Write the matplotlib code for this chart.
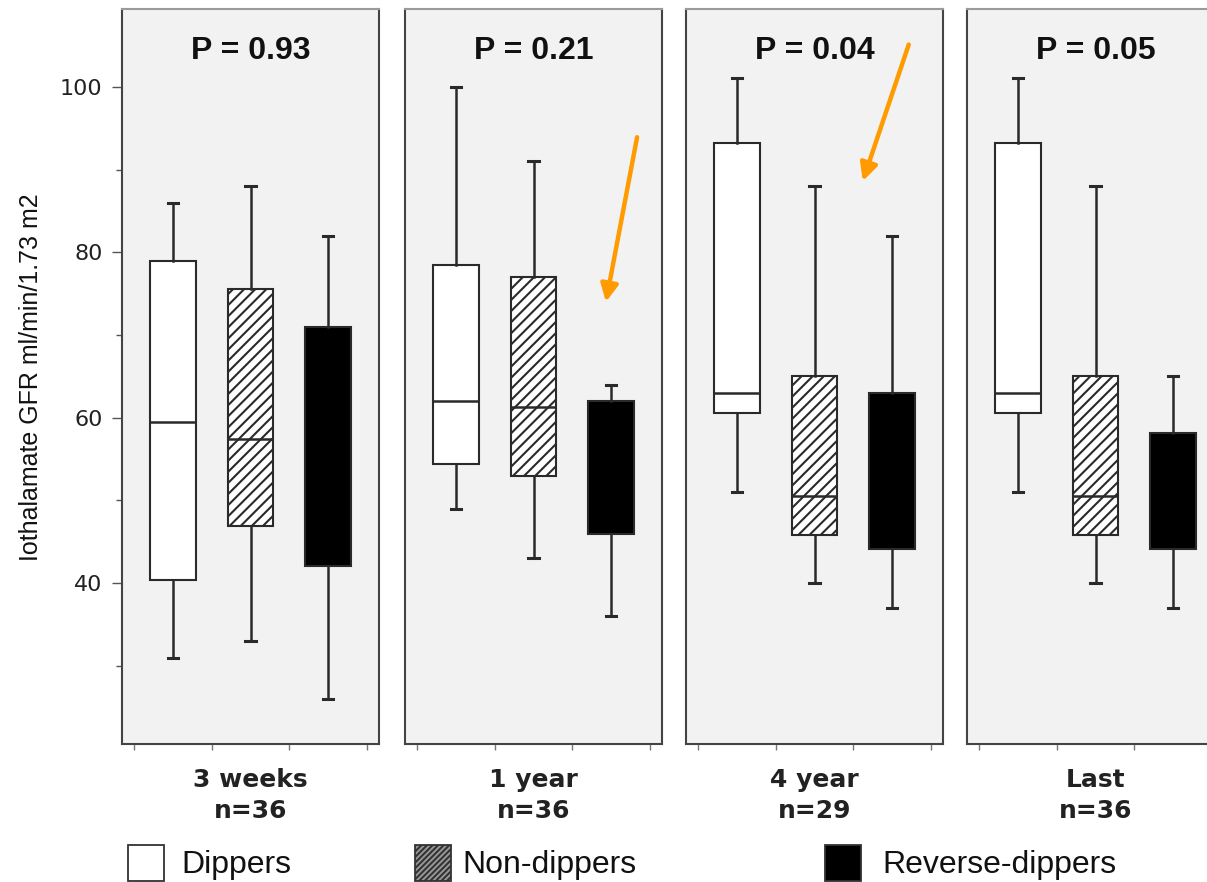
import matplotlib
matplotlib.use('Agg')
import matplotlib.pyplot as plt
from matplotlib.patches import Rectangle

# ---------------- data ----------------
periods = ['3 weeks', '1 year', '4 year', 'Last']
n_labels = ['n=36', 'n=36', 'n=29', 'n=36']
p_labels = ['P = 0.93', 'P = 0.21', 'P = 0.04', 'P = 0.05']
groups = ['Dippers', 'Non-dippers', 'Reverse-dippers']

# each entry: [whisker low, Q1, median, Q3, whisker high] per period
dippers = [[31, 40.4, 59.5, 79.0, 86],
           [49, 54.4, 62.0, 78.4, 100],
           [51, 60.6, 63.0, 93.2, 101],
           [51, 60.6, 63.0, 93.2, 101]]
non_dippers = [[33, 46.9, 57.4, 75.6, 88],
               [43, 53.0, 61.3, 77.0, 91],
               [40, 45.8, 50.5, 65.0, 88],
               [40, 45.8, 50.5, 65.0, 88]]
reverse_dippers = [[26, 42.1, 56.0, 71.0, 82],
                   [36, 46.0, 55.0, 62.0, 64],
                   [37, 44.1, 54.0, 63.0, 82],
                   [37, 44.1, 52.0, 58.2, 65]]

y_major = [40, 60, 80, 100]
y_minor = [30, 50, 70, 90]

# ---------------- style ----------------
plt.rcParams['hatch.linewidth'] = 1.5
W, H = 1207, 882
fig = plt.figure(figsize=(W / 100, H / 100), dpi=100)
fig.patch.set_facecolor('white')

panel_left_px = [122, 405, 686, 967]
panel_w_px = 257
panel_top_px, panel_bot_px = 9, 744

EDGE = '#2a2a2a'
fills = ['white', 'white', 'black']
hatches = [None, '///', None]
median_visible = [True, True, False]

# annotation arrows (data coords of the panel) : panel index, tail, head
arrows = [(1, (3.33, 93.9), (2.93, 74.0)),
          (2, (3.21, 105.1), (2.62, 88.6))]
ORANGE = '#FF9A00'

axes = []
for i, period in enumerate(periods):
    ax = fig.add_axes([panel_left_px[i] / W, (H - panel_bot_px) / H,
                       panel_w_px / W, (panel_bot_px - panel_top_px) / H])
    axes.append(ax)
    ax.set_facecolor('#f2f2f2')
    series = [dippers[i], non_dippers[i], reverse_dippers[i]]
    stats = []
    for g, s in zip(groups, series):
        stats.append(dict(label=g, whislo=s[0], q1=s[1], med=s[2], q3=s[3], whishi=s[4]))
    bp = ax.bxp(stats, positions=[1, 2, 3], widths=0.59, patch_artist=True,
                showfliers=False, capwidths=0.13,
                boxprops=dict(linewidth=1.5, edgecolor=EDGE),
                whiskerprops=dict(color=EDGE, linewidth=1.8),
                capprops=dict(color=EDGE, linewidth=2.2),
                medianprops=dict(color=EDGE, linewidth=1.8))
    for box, fc, ht in zip(bp['boxes'], fills, hatches):
        box.set_facecolor(fc)
        box.set_edgecolor(EDGE)
        if ht:
            box.set_hatch(ht)
    for med, vis in zip(bp['medians'], median_visible):
        med.set_visible(vis)

    ax.set_xlim(0.35, 3.65)
    ax.set_ylim(20.56, 109.4)

    for side in ['left', 'right', 'bottom']:
        ax.spines[side].set_color('#444444')
        ax.spines[side].set_linewidth(1.5)
    ax.spines['top'].set_color('#9a9a9a')
    ax.spines['top'].set_linewidth(1.5)

    ax.set_xticks([0.5, 1.5, 2.5, 3.5])
    ax.set_xticklabels([])
    ax.tick_params(axis='x', length=4, width=1, color='#777777', direction='out')

    if i == 0:
        ax.set_yticks(y_major)
        ax.set_yticks(y_minor, minor=True)
        ax.set_yticklabels([str(v) for v in y_major], fontsize=16,
                           family='DejaVu Sans', color='#222222')
        ax.tick_params(axis='y', which='major', length=7, width=1, color='#555555', pad=7)
        ax.tick_params(axis='y', which='minor', length=4, width=1, color='#555555')
    else:
        ax.set_yticks([])

    ax.text(2, 103.4, p_labels[i], ha='center', va='baseline',
            fontsize=23, fontweight='bold', family='Liberation Sans', color='#111111')
    ax.text(0.5, -0.0585, period, transform=ax.transAxes, ha='center', va='baseline',
            fontsize=18, fontweight='bold', family='DejaVu Sans', color='#222222')
    ax.text(0.5, -0.1007, n_labels[i], transform=ax.transAxes, ha='center', va='baseline',
            fontsize=18, fontweight='bold', family='DejaVu Sans', color='#222222')

for idx, tail, head in arrows:
    axes[idx].annotate('', xy=head, xytext=tail,
                       arrowprops=dict(arrowstyle='-|>', color=ORANGE, lw=3.2,
                                       mutation_scale=26, shrinkA=0, shrinkB=0))

fig.text(31 / W, 1 - 377 / H, 'Iothalamate GFR ml/min/1.73 m2', rotation=90,
         ha='center', va='center', fontsize=18, family='Liberation Sans', color='#111111')

# ---------------- legend ----------------
leg_sq_x = [128, 415, 825]
leg_txt_x = [181, 462, 882]
sq = 36
leg_face = ['white', '#9a9a9a', 'black']
for j, g in enumerate(groups):
    r = Rectangle((leg_sq_x[j] / W, 1 / H), sq / W, sq / H, transform=fig.transFigure,
                  facecolor=leg_face[j], edgecolor='#333333', linewidth=1.3,
                  hatch='//////' if j == 1 else None)
    fig.add_artist(r)
    fig.text(leg_txt_x[j] / W, 9 / H, g, ha='left', va='baseline', fontsize=23,
             family='Liberation Sans', color='#111111')

fig.savefig('out.png', dpi=100, facecolor='white')
